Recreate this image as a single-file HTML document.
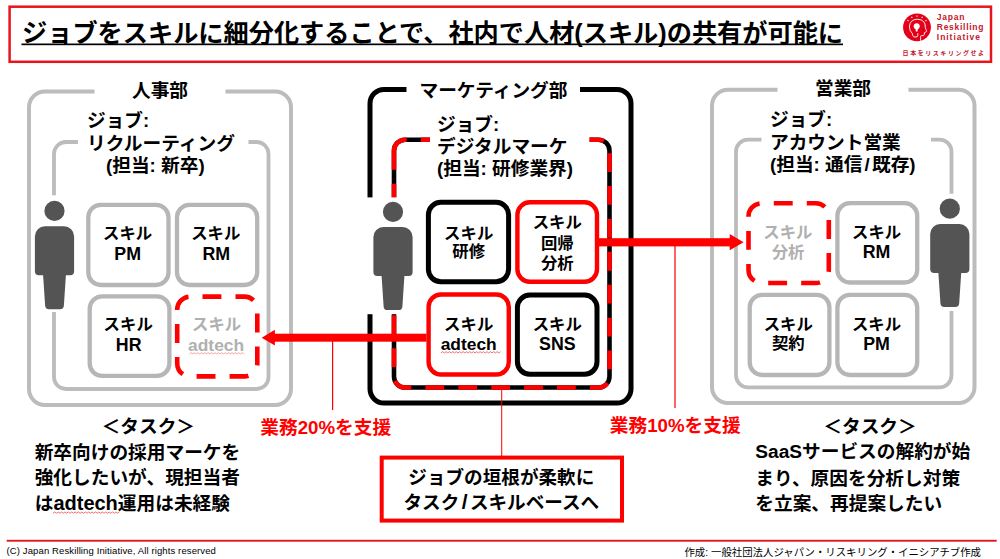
<!DOCTYPE html>
<html lang="ja">
<head>
<meta charset="utf-8">
<title>ジョブをスキルに細分化</title>
<style>
html,body{margin:0;padding:0;background:#fff;}
body{width:1000px;height:559px;overflow:hidden;position:relative;font-family:"Liberation Sans","Noto Sans CJK JP",sans-serif;}
svg{position:absolute;left:0;top:0;display:block;}
text{font-family:"Liberation Sans","Noto Sans CJK JP",sans-serif;font-weight:700;fill:#000;}
.h{font-size:18.7px;}
.s{font-size:16.400px;text-anchor:middle;}
.g{fill:#b0b0b0;}
.r{fill:#ff0000;}
.t{font-size:18.7px;}
</style>
</head>
<body>
<svg width="1000" height="559" viewBox="0 0 1000 559">
<!-- title box -->
<rect x="9.600" y="6.700" width="981.400" height="55.100" fill="#fff" stroke="#e8141c" stroke-width="2.500"/>
<text x="22" y="41.600" style="font-size:25.200px">ジョブをスキルに細分化することで、社内で人材(スキル)の共有が可能に</text>
<rect x="21.500" y="43.500" width="821.500" height="1.700" fill="#000"/>

<!-- logo -->
<g id="logo">
<circle cx="917" cy="27.400" r="13.900" fill="#e50019"/>
<path d="M920.600 40.800V36.300Q920.600 35.700 921.400 35.700L923.500 35.500Q924.400 35.300 924.300 34.300L924.400 32.700L926.400 31.700Q926.900 31.300 926.500 30.700L925.300 27.600Q925.800 19.700 917.600 19.200Q909.600 19.400 909.400 27Q909.600 31 912.300 33.500L912.600 35.300Q913 37 915 37H916Q917.800 36.900 917.800 35.300V33.200" fill="none" stroke="#fff" stroke-width=".9" stroke-linejoin="round"/>
<circle cx="916.700" cy="26.200" r="3" fill="#fff"/>
<path d="M915.500 28h2.400l-.3 3.600h-1.800z" fill="#fff"/>
<path d="M908.53 21.02L907.42 20.18M912.19 17.96L911.55 16.71M917.00 16.80L917.00 15.40M921.81 17.96L922.45 16.71M925.47 21.02L926.58 20.18" fill="none" stroke="#fff" stroke-width="1.100"/>
<text x="936.800" y="20.100" style="font-size:8.500px;fill:#c3182b;letter-spacing:.8px">Japan</text>
<text x="936.800" y="30.200" style="font-size:8.500px;fill:#c3182b;letter-spacing:.72px">Reskilling</text>
<text x="936.800" y="40.300" style="font-size:8.500px;fill:#c3182b;letter-spacing:.97px">Initiative</text>
<text x="902.600" y="54.700" style="font-size:6px;fill:#c3182b;letter-spacing:1.55px">日本をリスキリングせよ</text>
</g>

<!-- LEFT: HR dept -->
<g fill="none" stroke="#bcbcbc" stroke-width="4">
<path d="M94.5 91.5H45a16 16 0 0 0-16 16V389a16 16 0 0 0 16 16H275a16 16 0 0 0 16-16V107.5a16 16 0 0 0-16-16H225.5"/>
<path d="M78 142H66a12 12 0 0 0-12 12V377a12 12 0 0 0 12 12H256.500a12 12 0 0 0 12-12V154a12 12 0 0 0-12-12H248.500" stroke-width="3.800"/>
<g stroke-width="4.300" stroke="#b6b6b6">
<rect x="88.300" y="204.800" width="80.200" height="80.200" rx="12.500"/>
<rect x="177" y="204.800" width="80.200" height="80.200" rx="12.500"/>
<rect x="89.700" y="296.300" width="79.700" height="79.600" rx="12.500"/>
</g>
<rect x="177.200" y="296.600" width="80.100" height="79.800" rx="13" stroke="#ff0000" stroke-width="4.600" stroke-dasharray="18.900 14.100" stroke-dashoffset="20.700"/>
</g>
<!-- person left -->
<rect x="32" y="195.300" width="45" height="116.700" fill="#fff"/>
<g fill="#545454" transform="translate(54.500,210.900)">
<circle cx="0" cy="0" r="10.100"/>
<path d="M-9.600 15.300H9.600A10 10 0 0 1 19.600 25.300V60.300A4 4 0 0 1 15.600 64.300H11.400L9.400 94.400A4 4 0 0 1 5.400 98.300H-5.400A4 4 0 0 1-9.400 94.400L-11.400 64.300H-15.600A4 4 0 0 1-19.600 60.300V25.300A10 10 0 0 1-9.600 15.300z"/>
</g>
<text x="160" y="97.200" class="h" text-anchor="middle">人事部</text>
<text x="87" y="127.300" class="h">ジョブ:</text>
<text x="87" y="149.500" class="h">リクルーティング</text>
<text x="106" y="171.700" class="h">(担当: 新卒)</text>
<text x="127.6" y="239.0" class="s">スキル</text>
<text x="127.7" y="259.8" class="s" style="font-size:17.8px">PM</text>
<text x="215.8" y="239.0" class="s">スキル</text>
<text x="216.3" y="259.8" class="s" style="font-size:17.8px">RM</text>
<text x="128.2" y="330.3" class="s">スキル</text>
<text x="128.7" y="351.2" class="s" style="font-size:17.8px">HR</text>
<text x="216.6" y="330.3" class="s g">スキル</text>
<text x="216.1" y="351.0" class="s g" style="font-size:17.4px">adtech</text>

<text x="148.300" y="432.500" class="t" text-anchor="middle">＜タスク＞</text>
<text x="34.700" y="458.500" class="t">新卒向けの採用マーケを</text>
<text x="34.700" y="484" class="t">強化したいが、現担当者</text>
<text x="34.700" y="509.500" class="t">は<tspan style="font-size:20px">adtech</tspan>運用は未経験</text>

<!-- CENTER: marketing -->
<g fill="none" stroke="#000" stroke-width="5">
<path d="M406.500 89.500H384a14 14 0 0 0-14 14V389a14 14 0 0 0 14 14H617a14 14 0 0 0 14-14V103.500a14 14 0 0 0-14-14H580"/>
<path d="M394 150.700a11 11 0 0 1 11-11H598.500a11 11 0 0 1 11 11V376.500a11 11 0 0 1-11 11H405a11 11 0 0 1-11-11z" stroke-width="4.600"/>
<path d="M394 150.700a11 11 0 0 1 11-11H598.500a11 11 0 0 1 11 11V376.500a11 11 0 0 1-11 11H405a11 11 0 0 1-11-11z" stroke-width="4.600" stroke="#ff0000" stroke-dasharray="18.800 14.100"/>
<rect x="430" y="135" width="159.300" height="10" fill="#fff" stroke="none"/>
</g>
<g fill="#fff" stroke-width="5">
<rect x="428.400" y="202.300" width="80.200" height="79.500" rx="12.500" stroke="#000"/>
<rect x="517.400" y="202.300" width="79.600" height="79.500" rx="12.500" stroke="#ff0000" stroke-width="4.400"/>
<rect x="428.600" y="294.500" width="80.200" height="80" rx="12.500" stroke="#ff0000" stroke-width="4.400"/>
<rect x="517.400" y="295" width="79.600" height="79.300" rx="12.500" stroke="#000"/>
</g>
<!-- person center -->
<rect x="367" y="197.400" width="52" height="116.800" fill="#fff"/>
<g fill="#545454" transform="translate(393,211.800)">
<circle cx="0" cy="0" r="10.100"/>
<path d="M-9.600 15.300H9.600A10 10 0 0 1 19.600 25.300V60.300A4 4 0 0 1 15.600 64.300H11.400L9.400 94.400A4 4 0 0 1 5.400 98.300H-5.400A4 4 0 0 1-9.400 94.400L-11.400 64.300H-15.600A4 4 0 0 1-19.600 60.300V25.300A10 10 0 0 1-9.600 15.300z"/>
</g>
<rect x="412" y="76" width="163" height="26" fill="#fff"/>
<text x="493.500" y="96.500" class="h" text-anchor="middle">マーケティング部</text>
<text x="437" y="131" class="h">ジョブ:</text>
<text x="437" y="153.200" class="h">デジタルマーケ</text>
<text x="437" y="174.500" class="h">(担当: 研修業界)</text>
<text x="468.7" y="238.7" class="s">スキル</text>
<text x="468.7" y="257.0" class="s">研修</text>
<text x="557.3" y="228.0" class="s">スキル</text>
<text x="557.3" y="248.5" class="s">回帰</text>
<text x="557.3" y="269.0" class="s">分析</text>
<text x="468.7" y="329.7" class="s">スキル</text>
<text x="468.7" y="349.8" class="s" style="font-size:17.4px">adtech</text>
<text x="557.3" y="329.7" class="s">スキル</text>
<text x="557.3" y="349.8" class="s" style="font-size:17.8px">SNS</text>

<text x="260.300" y="434" class="t r">業務20%を支援</text>
<text x="609.800" y="431.800" class="t r">業務10%を支援</text>

<!-- callout -->
<rect x="381.700" y="457.600" width="240.300" height="63" fill="#fff" stroke="#ff0000" stroke-width="4"/>
<text x="501.300" y="483.600" class="t" text-anchor="middle" style="font-size:18.600px">ジョブの垣根が柔軟に</text>
<text x="501.300" y="509.300" class="t" text-anchor="middle" style="font-size:18.600px">タスク<tspan dx="2.4" style="font-size:21px">/</tspan><tspan dx="2.4">スキルベースへ</tspan></text>

<!-- RIGHT: sales -->
<g fill="none" stroke="#bcbcbc" stroke-width="4">
<path d="M777.500 89.700H728a16 16 0 0 0-16 16V387a16 16 0 0 0 16 16H958.500a16 16 0 0 0 16-16V105.700a16 16 0 0 0-16-16H908.500"/>
<path d="M761.500 139.700H748a12 12 0 0 0-12 12V375.300a12 12 0 0 0 12 12H939.500a12 12 0 0 0 12-12V151.700a12 12 0 0 0-12-12H931" stroke-width="3.800"/>
<g stroke-width="4.300" stroke="#b6b6b6">
<rect x="837.400" y="203.200" width="79.800" height="79.300" rx="12.500"/>
<rect x="749.700" y="294.800" width="79.700" height="80.200" rx="12.500"/>
<rect x="837.400" y="294.800" width="79.800" height="80.200" rx="12.500"/>
</g>
<rect x="748.500" y="203.300" width="80.300" height="79.700" rx="13" stroke="#ff0000" stroke-width="4.600" stroke-dasharray="18.900 14.100" stroke-dashoffset="20.700"/>
</g>
<!-- person right -->
<rect x="927" y="193.700" width="45" height="117.300" fill="#fff"/>
<g fill="#545454" transform="translate(949.800,208.700)">
<circle cx="0" cy="0" r="10.100"/>
<path d="M-9.600 15.300H9.600A10 10 0 0 1 19.600 25.300V60.300A4 4 0 0 1 15.600 64.300H11.400L9.400 94.400A4 4 0 0 1 5.400 98.300H-5.400A4 4 0 0 1-9.400 94.400L-11.400 64.300H-15.600A4 4 0 0 1-19.600 60.300V25.300A10 10 0 0 1-9.600 15.300z"/>
</g>
<text x="843" y="95" class="h" text-anchor="middle">営業部</text>
<text x="770" y="126" class="h">ジョブ:</text>
<text x="770" y="148.500" class="h">アカウント営業</text>
<text x="770" y="170.500" class="h">(担当: 通信<tspan dx="2.2">/</tspan><tspan dx="2.2">既存)</tspan></text>
<text x="787.9" y="238.0" class="s g">スキル</text>
<text x="788.1" y="257.5" class="s g">分析</text>
<text x="876.6" y="237.8" class="s">スキル</text>
<text x="876.6" y="258.2" class="s" style="font-size:17.8px">RM</text>
<text x="788.3" y="329.5" class="s">スキル</text>
<text x="788.3" y="349" class="s">契約</text>
<text x="876.5" y="329.5" class="s">スキル</text>
<text x="876.5" y="350.3" class="s" style="font-size:17.8px">PM</text>

<text x="870" y="432.500" class="t" text-anchor="middle">＜タスク＞</text>
<text x="755.300" y="458" class="t"><tspan style="font-size:19.100px">SaaS</tspan>サービスの解約が始</text>
<text x="755.300" y="484.500" class="t">まり、原因を分析し対策</text>
<text x="755.300" y="509.700" class="t">を立案、再提案したい</text>

<!-- arrows -->
<g fill="#ff0000">
<rect x="274" y="333.700" width="152.500" height="8"/>
<path d="M261.700 337.700l13.200-7.900v15.800z"/>
<rect x="599" y="238.200" width="131.500" height="8.200"/>
<path d="M743.600 242.200l-13.900-8.100v16.200z"/>
<rect x="332" y="341" width="1.200" height="69"/>
<rect x="674.400" y="245" width="1.200" height="163"/>
<rect x="501.200" y="389" width="1" height="68"/>
</g>
<g fill="none" stroke="#f03030" stroke-width=".7">
<path d="M189.5 353.9L191.2 352.7L192.9 353.9L194.6 352.7L196.3 353.9L198.0 352.7L199.7 353.9L201.4 352.7L203.1 353.9L204.8 352.7L206.5 353.9L208.2 352.7L209.9 353.9L211.6 352.7L213.3 353.9L215.0 352.7L216.7 353.9L218.4 352.7L220.1 353.9L221.8 352.7L223.5 353.9L225.2 352.7L226.9 353.9L228.6 352.7L230.3 353.9L232.0 352.7L233.7 353.9L235.4 352.7L237.1 353.9L238.8 352.7L240.5 353.9L242.2 352.7L243.9 353.9" stroke="#f08080"/>
<path d="M441.0 352.9L442.7 351.7L444.4 352.9L446.1 351.7L447.8 352.9L449.5 351.7L451.2 352.9L452.9 351.7L454.6 352.9L456.3 351.7L458.0 352.9L459.7 351.7L461.4 352.9L463.1 351.7L464.8 352.9L466.5 351.7L468.2 352.9L469.9 351.7L471.6 352.9L473.3 351.7L475.0 352.9L476.7 351.7L478.4 352.9L480.1 351.7L481.8 352.9L483.5 351.7L485.2 352.9L486.9 351.7L488.6 352.9L490.3 351.7L492.0 352.9L493.7 351.7L495.4 352.9L497.1 351.7L498.8 352.9L500.5 351.7"/>
<path d="M53.0 513.2L54.7 512.0L56.4 513.2L58.1 512.0L59.8 513.2L61.5 512.0L63.2 513.2L64.9 512.0L66.6 513.2L68.3 512.0L70.0 513.2L71.7 512.0L73.4 513.2L75.1 512.0L76.8 513.2L78.5 512.0L80.2 513.2L81.9 512.0L83.6 513.2L85.3 512.0L87.0 513.2L88.7 512.0L90.4 513.2L92.1 512.0L93.8 513.2L95.5 512.0L97.2 513.2L98.9 512.0L100.6 513.2L102.3 512.0L104.0 513.2L105.7 512.0L107.4 513.2L109.1 512.0L110.8 513.2L112.5 512.0L114.2 513.2L115.9 512.0L117.6 513.2L119.3 512.0"/>
</g>
<!-- footer -->
<rect x="6.700" y="539.800" width="990" height="1.900" fill="#e8141c"/>
<text x="6.500" y="553.800" style="font-size:9.500px;font-weight:400;letter-spacing:.12px">(C) Japan Reskilling Initiative, All rights reserved</text>
<text x="981" y="555.600" text-anchor="end" style="font-size:10.400px;font-weight:400">作成: 一般社団法人ジャパン・リスキリング・イニシアチブ作成</text>
</svg>
</body>
</html>
